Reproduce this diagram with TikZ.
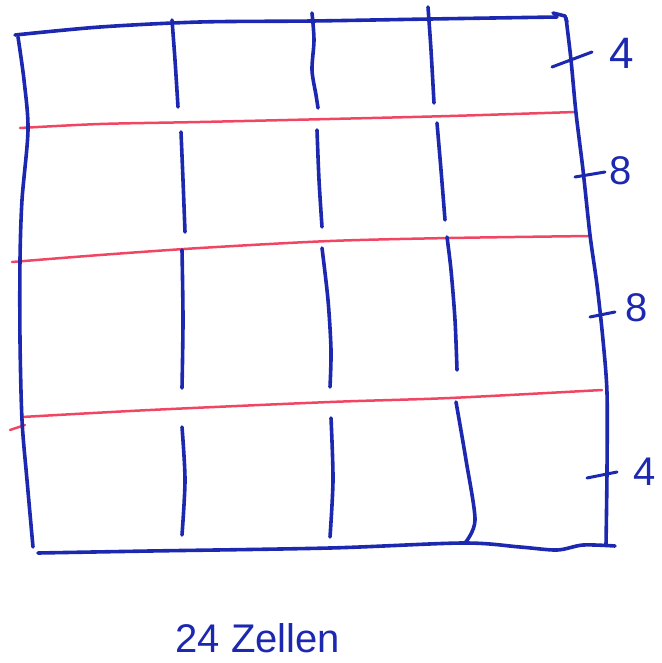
\documentclass[tikz,border=0pt]{standalone}
\usepackage{fontspec}
\setmainfont{Liberation Sans}
\definecolor{pen}{RGB}{28,40,175}
\definecolor{redpen}{RGB}{240,70,100}
\begin{document}
\begin{tikzpicture}[x=1pt,y=-1pt,
  bl/.style={draw=pen,line width=3.6pt,line cap=round,line join=round},
  rd/.style={draw=redpen,line width=2.5pt,line cap=round,line join=round},
  lab/.style={text=pen,inner sep=0pt,font=\fontsize{40}{40}\selectfont}]
\useasboundingbox (0,0) rectangle (661,663);
% red row lines
\draw[rd] plot[smooth] coordinates {(20,128) (100,124) (200,122) (330,119) (450,116) (575,112)};
\draw[rd] plot[smooth] coordinates {(12,262) (100,255) (200,248) (330,241) (450,238) (590,236)};
\draw[rd] plot[smooth] coordinates {(22,417) (150,410) (330,402) (450,398) (602,390)};
\draw[rd] (10,430) -- (25,425);
% outer frame
\draw[bl] plot[smooth] coordinates {(15,35) (100,27) (200,22) (312,21) (430,19) (557,17)};
\draw[bl] (553,13) -- (565,16) -- (567,22);
\draw[bl] plot[smooth] coordinates {(566,18) (571,60) (576,113) (583,170) (590,235) (597,285) (603,340) (607,393) (607,470) (606,545)};
\draw[bl] plot[smooth] coordinates {(18,37) (24,80) (28,130) (22,200) (20,260) (20,340) (22,420) (27,480) (33,547)};
\draw[bl] plot[smooth] coordinates {(38,553) (150,551) (330,548) (463,543) (520,547) (557,550) (583,545) (615,546)};
% column 1
\draw[bl] plot[smooth] coordinates {(172,20) (175,60) (178,107)};
\draw[bl] plot[smooth] coordinates {(181,132) (183,180) (185,232)};
\draw[bl] plot[smooth] coordinates {(182,250) (183,320) (182,388)};
\draw[bl] plot[smooth] coordinates {(182,427) (185,480) (182,535)};
% column 2
\draw[bl] plot[smooth] coordinates {(312,13) (314,40) (312,70) (316,95) (318,108)};
\draw[bl] plot[smooth] coordinates {(317,130) (319,180) (322,227)};
\draw[bl] plot[smooth] coordinates {(322,248) (328,300) (331,350) (330,387)};
\draw[bl] plot[smooth] coordinates {(331,418) (333,480) (330,537)};
% column 3
\draw[bl] plot[smooth] coordinates {(428,7) (431,50) (434,103)};
\draw[bl] plot[smooth] coordinates {(437,123) (441,170) (445,220)};
\draw[bl] plot[smooth] coordinates {(447,237) (451,270) (455,320) (457,370)};
\draw[bl] plot[smooth] coordinates {(456,402) (466,460) (475,520) (465,543)};
% ticks and labels
\draw[bl,line width=3pt] (552,67) -- (592,52);
\node[lab,font=\fontsize{44}{44}\selectfont] (l1) at (622,53) {4};
\draw[bl,line width=3pt] (575,177) -- (605,172);
\node[lab] (l2) at (621,171) {8};
\draw[bl,line width=3pt] (590,317) -- (615,312);
\node[lab] (l3) at (637,308) {8};
\draw[bl,line width=3pt] (587,478) -- (617,472);
\node[lab] (l4) at (645,472) {4};
% caption
\node[lab] (cap) at (258,638) {24 Zellen};
\end{tikzpicture}
\end{document}
